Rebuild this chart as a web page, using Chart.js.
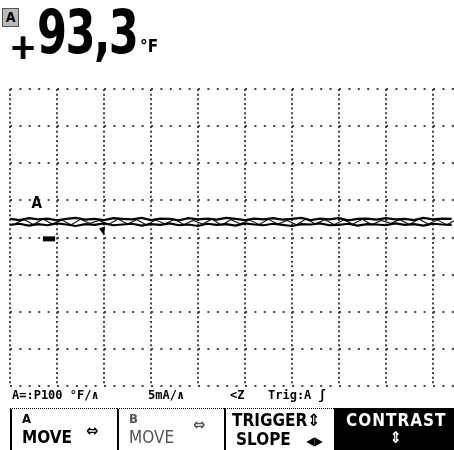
<!DOCTYPE html>
<html>
<head>
<meta charset="utf-8">
<script src="https://cdn.jsdelivr.net/npm/chart.js@4.4.1/dist/chart.umd.min.js"></script>
<style>
  html, body { margin: 0; padding: 0; background: #fff; }
  #wrap { position: relative; width: 454px; height: 450px; overflow: hidden; font-family: "DejaVu Sans Condensed", "DejaVu Sans", sans-serif; color: #000; }
  #scope { position: absolute; left: 0; top: 0; }
  .t { position: absolute; white-space: nowrap; font-weight: bold; }
  #icon { left: 2px; top: 8px; width: 15px; height: 17px; background: #bbb; border: 1px solid #555; font-size: 14px; line-height: 17px; text-align: center; }
  #plus { left: 9px; top: 26px; font-size: 36px; text-shadow: 1px 0 0 #000; }
  #reading { left: 37px; top: -3px; font-size: 60px; letter-spacing: -2px; transform: scaleX(0.8); transform-origin: left top; }
  #unit { left: 140px; top: 36px; font-size: 17px; }
  .status { top: 388px; font-family: "DejaVu Sans Mono", monospace; font-size: 12px; }
  .key { position: absolute; top: 408px; height: 42px; }
  .key .l1 { position: absolute; left: 10px; top: 2px; font-size: 13px; font-weight: bold; }
  .key .l2 { position: absolute; left: 10px; top: 18px; font-size: 17px; font-weight: bold; }
  .key .arr { position: absolute; top: 12px; font-size: 16px; font-weight: bold; }
</style>
</head>
<body>
<div id="wrap">
  <canvas id="scope" width="454" height="450"></canvas>

  <div class="t" id="icon">A</div>
  <div class="t" id="plus">+</div>
  <div class="t" id="reading">93,3</div>
  <div class="t" id="unit">°F</div>

  <div class="t status" style="left:12px">A=:P100 °F/∧</div>
  <div class="t status" style="left:148px">5mA/∧</div>
  <div class="t status" style="left:230px">&lt;Z</div>
  <div class="t status" style="left:268px">Trig:A ʃ</div>

  <div class="key" style="left:10px;width:105px;border-left:2px solid #000;border-top:1px dotted #000;">
    <div class="l1">A</div><div class="l2">MOVE</div><div class="arr" style="left:74px">⇔</div>
  </div>
  <div class="key" style="left:117px;width:105px;border-left:2px solid #000;border-top:1px dotted #000;color:#555;">
    <div class="l1">B</div><div class="l2" style="font-weight:normal">MOVE</div><div class="arr" style="left:74px;top:6px">⇔</div>
  </div>
  <div class="key" style="left:224px;width:108px;border-left:2px solid #000;border-top:1px dotted #000;">
    <div class="l1" style="left:6px;top:1px;font-size:17px">TRIGGER⇕</div>
    <div class="l2" style="left:10px;top:20px">SLOPE <span style="font-size:12px;margin-left:10px">◀▶</span></div>
  </div>
  <div class="key" style="left:334px;width:120px;background:#000;color:#fff;">
    <div class="l1" style="left:12px;top:2px;font-size:17px;letter-spacing:1px">CONTRAST</div>
    <div class="arr" style="left:56px;top:20px">⇕</div>
  </div>
</div>

<script>
'use strict';

// sample spacing of the trace in divisions
const SAMPLE_STEP = 0.2;

// upper and lower edge of the noisy trace, in divisions
const traceUpper = [0.50, 0.47, 0.52, 0.49, 0.51, 0.46, 0.50, 0.53, 0.48, 0.50, 0.47, 0.52, 0.50, 0.49, 0.53, 0.47,
  0.51, 0.50, 0.46, 0.52, 0.49, 0.51, 0.48, 0.53, 0.50, 0.47, 0.51, 0.49, 0.52, 0.48, 0.50, 0.53,
  0.47, 0.51, 0.49, 0.52, 0.46, 0.50, 0.51, 0.48, 0.52, 0.49, 0.50, 0.47, 0.53, 0.49, 0.51, 0.50];
const traceLower = [0.34, 0.37, 0.32, 0.36, 0.33, 0.38, 0.35, 0.31, 0.36, 0.34, 0.38, 0.33, 0.35, 0.37, 0.32, 0.36,
  0.34, 0.38, 0.33, 0.35, 0.31, 0.37, 0.34, 0.36, 0.32, 0.38, 0.35, 0.33, 0.37, 0.34, 0.31, 0.36,
  0.35, 0.38, 0.33, 0.34, 0.37, 0.32, 0.36, 0.35, 0.33, 0.38, 0.34, 0.36, 0.32, 0.37, 0.35, 0.34];
// zigzag between the two edges, sampled half a step later
const traceMid = [0.37, 0.48, 0.35, 0.50, 0.36, 0.47, 0.34, 0.49, 0.38, 0.46, 0.35, 0.50, 0.36, 0.48, 0.34, 0.47,
  0.37, 0.49, 0.35, 0.46, 0.36, 0.50, 0.33, 0.48, 0.37, 0.47, 0.35, 0.49, 0.36, 0.46, 0.34, 0.50,
  0.37, 0.48, 0.35, 0.47, 0.36, 0.49, 0.34, 0.46, 0.38, 0.48, 0.35, 0.50, 0.36, 0.47, 0.34, 0.49];

// screen: 8 vertical divisions, 9.45 horizontal divisions visible
const Y_MIN = -4, Y_MAX = 4;
const X_MIN = 0, X_MAX = 9.45;

// markers: channel label, ground level, trigger point (in divisions)
const channelLabel = { x: 0.57, y: 0.9, text: 'A' };
const groundMark = { x0: 0.7, x1: 0.96, y: -0.05 };
const triggerMark = { x: 1.98, y: 0.16 };

function toPoints(arr, offset) {
  return arr.map((v, i) => ({ x: i * SAMPLE_STEP + offset, y: v }));
}

const markerPlugin = {
  id: 'markers',
  afterDatasetsDraw(chart) {
    const { ctx, scales: { x, y } } = chart;
    ctx.save();
    ctx.fillStyle = '#000';
    ctx.font = 'bold 15px "DejaVu Sans Condensed"';
    ctx.textAlign = 'center';
    ctx.textBaseline = 'middle';
    ctx.fillText(channelLabel.text, x.getPixelForValue(channelLabel.x), y.getPixelForValue(channelLabel.y));

    const gy = y.getPixelForValue(groundMark.y);
    ctx.fillRect(x.getPixelForValue(groundMark.x0), gy - 3, x.getPixelForValue(groundMark.x1) - x.getPixelForValue(groundMark.x0), 5);

    const tx = x.getPixelForValue(triggerMark.x), ty = y.getPixelForValue(triggerMark.y);
    ctx.beginPath();
    ctx.moveTo(tx - 4, ty - 3);
    ctx.lineTo(tx + 2, ty - 5);
    ctx.lineTo(tx + 1, ty + 4);
    ctx.closePath();
    ctx.fill();
    ctx.restore();
  },
};

new Chart(document.getElementById('scope').getContext('2d'), {
  type: 'line',
  data: {
    datasets: [
      { data: toPoints(traceUpper, 0), borderColor: '#000', borderWidth: 2.2, pointRadius: 0, tension: 0 },
      { data: toPoints(traceLower, 0), borderColor: '#000', borderWidth: 2.2, pointRadius: 0, tension: 0 },
      { data: toPoints(traceMid, 0.1), borderColor: '#222', borderWidth: 1.2, pointRadius: 0, tension: 0 },
    ],
  },
  options: {
    responsive: false,
    animation: false,
    layout: { padding: { top: 89, left: 10, right: 0, bottom: 64 } },
    plugins: { legend: { display: false }, tooltip: { enabled: false } },
    scales: {
      x: {
        type: 'linear', min: X_MIN, max: X_MAX,
        ticks: { display: false, stepSize: 1, includeBounds: false },
        grid: { color: '#444', lineWidth: 2, drawTicks: false },
        border: { display: false, dash: [2, 2.64] },
      },
      y: {
        min: Y_MIN, max: Y_MAX,
        ticks: { display: false, stepSize: 1 },
        grid: { color: '#444', lineWidth: 2, drawTicks: false },
        border: { display: false, dash: [2, 7.4] },
      },
    },
  },
  plugins: [markerPlugin],
});
</script>
</body>
</html>
